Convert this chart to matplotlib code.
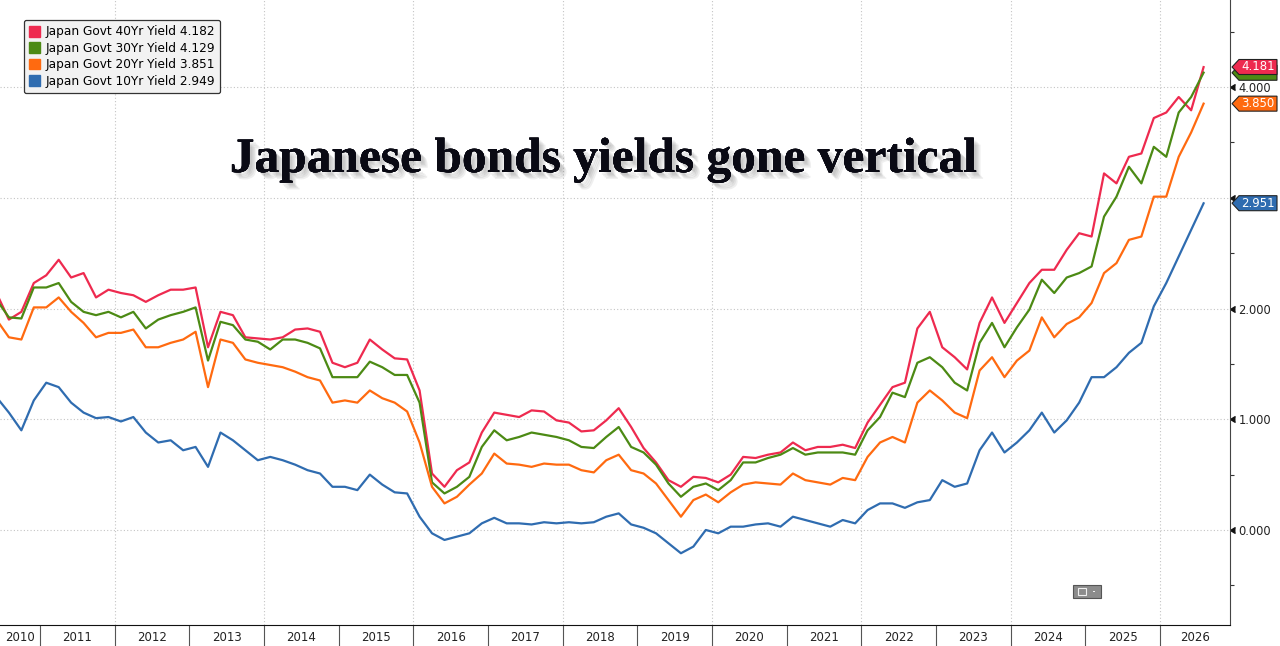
import matplotlib
matplotlib.use("Agg")
import matplotlib.pyplot as plt
import matplotlib.patches as mpatches
import matplotlib.patheffects as pe
import matplotlib.transforms as mtransforms
from matplotlib.ticker import FixedLocator, FixedFormatter, NullFormatter
import pandas as pd

# -----------------------
# Data (one value every two months)
# -----------------------

dates = pd.date_range("2010-06-01", "2026-08-01", freq="2MS")
t = dates.year + (dates.month - 1) / 12

jgb40 = [2.14, 1.90, 1.97, 2.23,
         2.30, 2.44, 2.28, 2.32, 2.10, 2.17,
         2.14, 2.12, 2.06, 2.12, 2.17, 2.17,
         2.19, 1.65, 1.97, 1.94, 1.74, 1.73,
         1.72, 1.74, 1.81, 1.82, 1.79, 1.51,
         1.47, 1.51, 1.72, 1.63, 1.55, 1.54,
         1.26, 0.51, 0.39, 0.54, 0.61, 0.88,
         1.06, 1.04, 1.02, 1.08, 1.07, 0.99,
         0.97, 0.89, 0.90, 0.99, 1.10, 0.93,
         0.74, 0.61, 0.45, 0.39, 0.48, 0.47,
         0.43, 0.50, 0.66, 0.65, 0.68, 0.70,
         0.79, 0.72, 0.75, 0.75, 0.77, 0.74,
         0.97, 1.13, 1.29, 1.33, 1.82, 1.97,
         1.65, 1.56, 1.45, 1.87, 2.10, 1.87,
         2.05, 2.23, 2.35, 2.35, 2.53, 2.68,
         2.65, 3.22, 3.13, 3.37, 3.40, 3.72,
         3.77, 3.91, 3.79, 4.18]

jgb30 = [2.08, 1.92, 1.91, 2.19,
         2.19, 2.23, 2.06, 1.97, 1.94, 1.97,
         1.92, 1.97, 1.82, 1.90, 1.94, 1.97,
         2.01, 1.53, 1.88, 1.85, 1.72, 1.70,
         1.63, 1.72, 1.72, 1.69, 1.64, 1.38,
         1.38, 1.38, 1.52, 1.47, 1.40, 1.40,
         1.15, 0.43, 0.33, 0.39, 0.48, 0.75,
         0.90, 0.81, 0.84, 0.88, 0.86, 0.84,
         0.81, 0.75, 0.74, 0.84, 0.93, 0.75,
         0.70, 0.59, 0.42, 0.30, 0.39, 0.42,
         0.36, 0.45, 0.61, 0.61, 0.65, 0.68,
         0.74, 0.68, 0.70, 0.70, 0.70, 0.68,
         0.90, 1.02, 1.24, 1.20, 1.51, 1.56,
         1.47, 1.33, 1.26, 1.69, 1.87, 1.65,
         1.83, 1.99, 2.26, 2.14, 2.28, 2.32,
         2.38, 2.83, 3.01, 3.28, 3.13, 3.46,
         3.37, 3.77, 3.91, 4.13]

jgb20 = [1.90, 1.74, 1.72, 2.01,
         2.01, 2.10, 1.97, 1.87, 1.74, 1.78,
         1.78, 1.81, 1.65, 1.65, 1.69, 1.72,
         1.79, 1.29, 1.72, 1.69, 1.54, 1.51,
         1.49, 1.47, 1.43, 1.38, 1.35, 1.15,
         1.17, 1.15, 1.26, 1.19, 1.15, 1.07,
         0.79, 0.39, 0.24, 0.30, 0.41, 0.51,
         0.69, 0.60, 0.59, 0.57, 0.60, 0.59,
         0.59, 0.54, 0.52, 0.63, 0.68, 0.54,
         0.51, 0.42, 0.27, 0.12, 0.27, 0.32,
         0.25, 0.34, 0.41, 0.43, 0.42, 0.41,
         0.51, 0.45, 0.43, 0.41, 0.47, 0.45,
         0.66, 0.79, 0.84, 0.79, 1.15, 1.26,
         1.17, 1.06, 1.01, 1.44, 1.56, 1.38,
         1.53, 1.62, 1.92, 1.74, 1.86, 1.92,
         2.05, 2.32, 2.41, 2.62, 2.65, 3.01,
         3.01, 3.37, 3.59, 3.85]

jgb10 = [1.20, 1.06, 0.90, 1.17,
         1.33, 1.29, 1.15, 1.06, 1.01, 1.02,
         0.98, 1.02, 0.88, 0.79, 0.81, 0.72,
         0.75, 0.57, 0.88, 0.81, 0.72, 0.63,
         0.66, 0.63, 0.59, 0.54, 0.51, 0.39,
         0.39, 0.36, 0.50, 0.41, 0.34, 0.33,
         0.12, -0.03, -0.09, -0.06, -0.03, 0.06,
         0.11, 0.06, 0.06, 0.05, 0.07, 0.06,
         0.07, 0.06, 0.07, 0.12, 0.15, 0.05,
         0.02, -0.03, -0.12, -0.21, -0.15, 0.00,
         -0.03, 0.03, 0.03, 0.05, 0.06, 0.03,
         0.12, 0.09, 0.06, 0.03, 0.09, 0.06,
         0.18, 0.24, 0.24, 0.20, 0.25, 0.27,
         0.45, 0.39, 0.42, 0.72, 0.88, 0.70,
         0.79, 0.90, 1.06, 0.88, 0.99, 1.15,
         1.38, 1.38, 1.47, 1.60, 1.69, 2.02,
         2.23, 2.47, 2.71, 2.95]

names = ["Japan Govt 40Yr Yield", "Japan Govt 30Yr Yield",
         "Japan Govt 20Yr Yield", "Japan Govt 10Yr Yield"]
legend_last = [4.182, 4.129, 3.851, 2.949]
tag_last = [4.181, 4.129, 3.850, 2.951]
colors = ["#ee2a4f", "#4c8a14", "#ff6a10", "#2f6cb0"]

years = list(range(2010, 2027))
y_ticks = [0, 1, 2, 3, 4]
y_minor = [-0.5, 0.5, 1.5, 2.5, 3.5, 4.5]
x_start, x_end = 2010.464, 2026.937

title = "Japanese bonds yields gone vertical"

# -----------------------
# Figure
# -----------------------

W, H = 1280, 646
fig = plt.figure(figsize=(W / 100, H / 100), dpi=100)
ax = fig.add_axes([0, 21 / H, 1230 / W, 625 / H])

for vals, col in zip([jgb40, jgb30, jgb20, jgb10], colors):
    ax.plot(t, vals, color=col, lw=1.6, solid_joinstyle="round")

ax.set_xlim(x_start, x_end)
ax.set_ylim(-0.858, 4.786)

# y axis on the right (3.000 sits under the 10Yr tag)
ax.yaxis.tick_right()
ax.yaxis.set_major_locator(FixedLocator(y_ticks))
ax.yaxis.set_major_formatter(FixedFormatter(
    ["" if v == 3 else f"{v:.3f}" for v in y_ticks]))
ax.yaxis.set_minor_locator(FixedLocator(y_minor))
ax.tick_params(axis="y", which="major", length=0, pad=6, labelsize=8.3,
               labelcolor="#222222")
ax.tick_params(axis="y", which="minor", length=3, width=0.8, color="#333333")
caret = mtransforms.blended_transform_factory(ax.transAxes, ax.transData)
ax.plot([1] * len(y_ticks), y_ticks, ls="none", marker=4, ms=5,
        color="#111111", transform=caret, clip_on=False)

# x axis: year boundaries as long ticks, labels centred in each year
bounds = [y for y in years if x_start <= y <= x_end]
centres = []
for y in years:
    lo, hi = max(y, x_start), min(y + 1, x_end)
    centres.append((lo + hi) / 2)
ax.xaxis.set_major_locator(FixedLocator(bounds))
ax.xaxis.set_major_formatter(NullFormatter())
ax.xaxis.set_minor_locator(FixedLocator(centres))
ax.xaxis.set_minor_formatter(FixedFormatter([str(y) for y in years]))
ax.tick_params(axis="x", which="major", length=16, width=0.8,
               color="#555555", direction="out")
ax.tick_params(axis="x", which="minor", length=0, pad=4, labelsize=8.5,
               labelcolor="#222222")

# grid
for v in y_ticks:
    ax.axhline(v, color="#c4c4c4", lw=0.8, ls=(0, (1, 2)), zorder=0)
for y in [yy for yy in bounds if yy % 2 == 0]:
    ax.axvline(y, color="#c4c4c4", lw=0.8, ls=(0, (1, 2)), zorder=0)

for side in ["top", "left"]:
    ax.spines[side].set_visible(False)
ax.spines["bottom"].set_color("#111111")
ax.spines["right"].set_color("#444444")

# legend
handles = [mpatches.Patch(color=c, label=f"{n} {v:.3f}")
           for n, v, c in zip(names, legend_last, colors)]
leg = ax.legend(handles=handles, loc="upper left",
                bbox_to_anchor=(24 / W, 1 - 20 / H), bbox_transform=fig.transFigure,
                borderaxespad=0, fontsize=8.7, handlelength=0.9, handleheight=1.0,
                handletextpad=0.4, labelspacing=0.28, borderpad=0.45,
                fancybox=True, framealpha=1)
leg.get_frame().set_facecolor("#f2f2f2")
leg.get_frame().set_edgecolor("#333333")
leg.get_frame().set_linewidth(0.9)

# title with a soft drop shadow
shadow = [pe.withSimplePatchShadow(offset=(d, -d), shadow_rgbFace="#666666", alpha=0.1)
          for d in (5, 4, 3, 2)]
fig.text(603 / W, 1 - 172 / H, title, ha="center", va="baseline",
         fontsize=35.6, fontweight="bold", family="Liberation Serif", color="#0a0a14",
         path_effects=shadow + [pe.Normal()])

# last-value tags on the right axis (10Yr first so the 40Yr tag ends on top)
ident = mtransforms.IdentityTransform()
x_axis = ax.transAxes.transform((1, 0))[0]
for i in reversed(range(len(tag_last))):
    val, col = tag_last[i], colors[i]
    yp = ax.transData.transform((0, val))[1]
    x0 = x_axis + 2
    h = 7.5
    verts = [(x0, yp), (x0 + 7, yp + h), (x0 + 45, yp + h),
             (x0 + 45, yp - h), (x0 + 7, yp - h)]
    fig.add_artist(mpatches.Polygon(verts, closed=True, transform=ident,
                                    facecolor=col, edgecolor="#222222", lw=0.8))
    if i != 1:  # the 30Yr tag text is hidden under the 40Yr tag
        fig.text(x0 + 9, yp, f"{val:.3f}", transform=ident, ha="left", va="center",
                 fontsize=8.5, color="white")

# small chart-type button
btn_x, btn_y = 1073, 585
fig.add_artist(mpatches.Rectangle((btn_x, H - btn_y - 13), 28, 13, transform=ident,
                                  facecolor="#8c8c8c", edgecolor="#555555", lw=0.8))
fig.add_artist(mpatches.Rectangle((btn_x + 5, H - btn_y - 10), 8, 7, transform=ident,
                                  facecolor="none", edgecolor="#eeeeee", lw=0.8))
fig.add_artist(mpatches.Rectangle((btn_x + 20, H - btn_y - 7), 2, 1, transform=ident,
                                  facecolor="#eeeeee", edgecolor="none"))

fig.savefig("out.png", dpi=100)
